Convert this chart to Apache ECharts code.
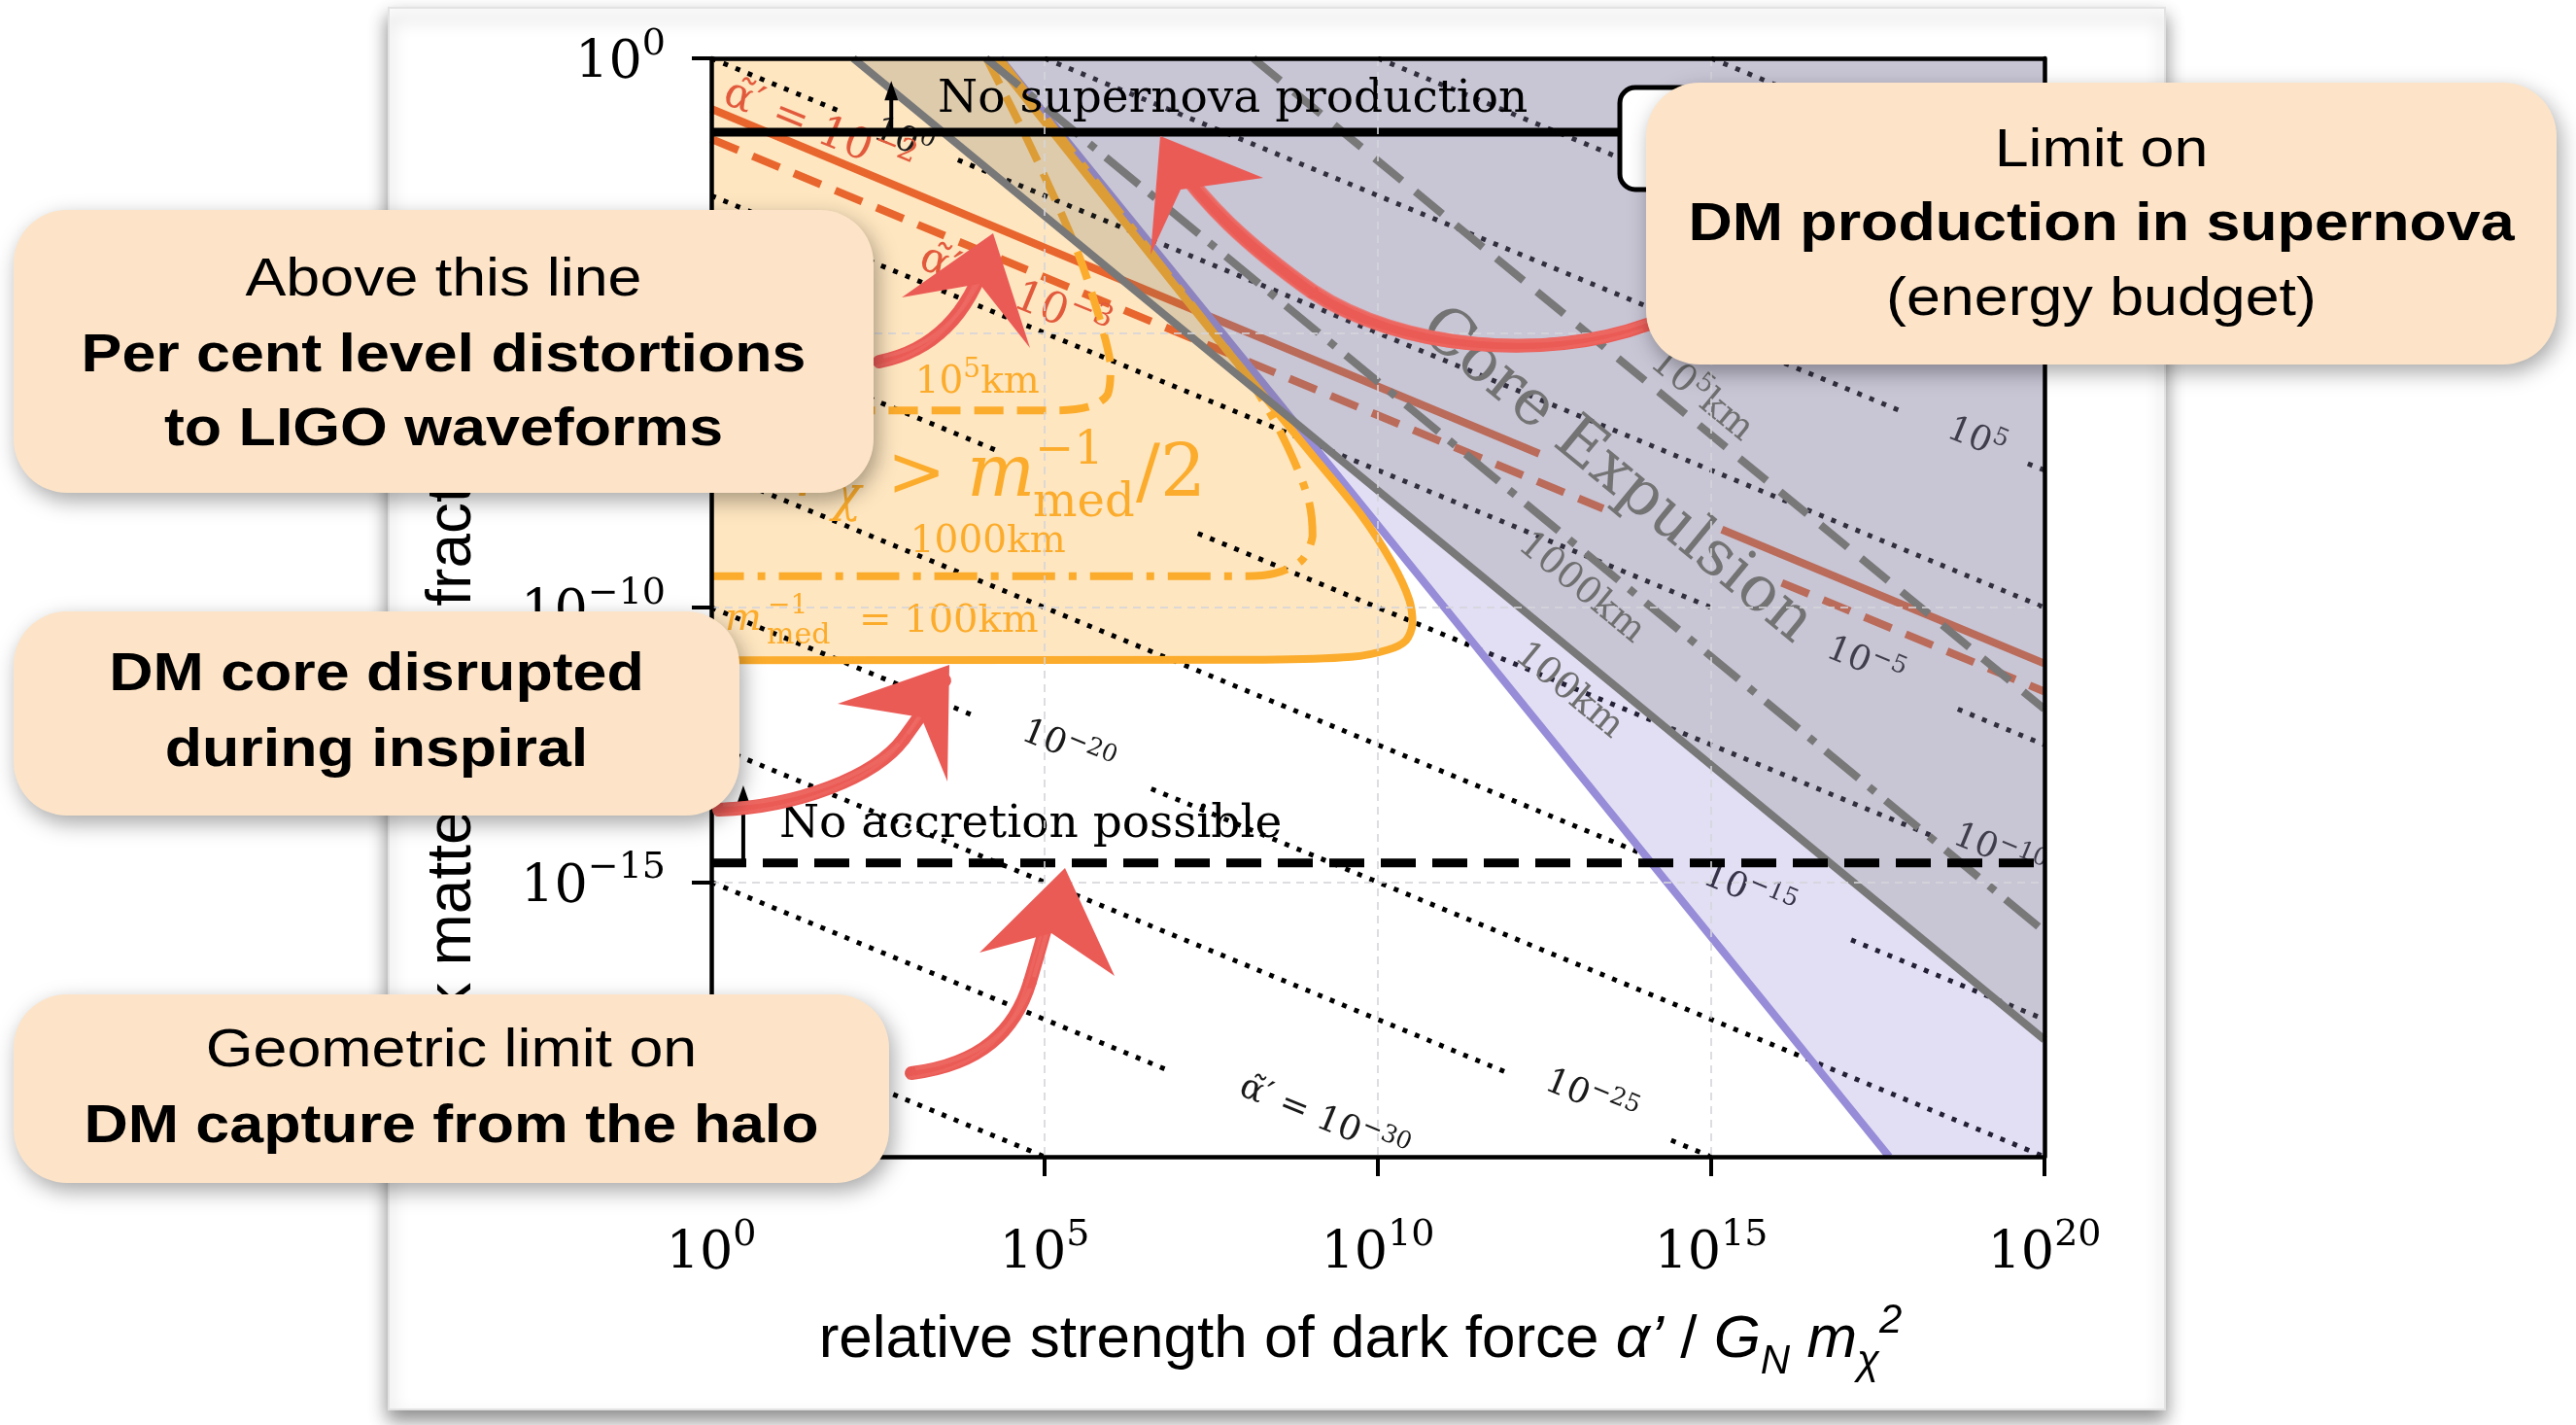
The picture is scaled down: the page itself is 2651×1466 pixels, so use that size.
<!DOCTYPE html>
<html>
<head>
<meta charset="utf-8">
<script src="https://cdn.jsdelivr.net/npm/echarts@6/dist/echarts.min.js"></script>
<style>
html,body{margin:0;padding:0;background:#ffffff;}
#chart{width:2651px;height:1466px;}
</style>
</head>
<body>
<div id="chart"></div>
<script>
const SERIF = '"DejaVu Serif", serif';
const SANS = '"Liberation Sans", Arial, sans-serif';

// ---------- axes (all data in log10 units) ----------
const xTickValues = [0, 5, 10, 15, 20];
const xTickLabels = ['0', '5', '10', '15', '20'];
const yTickValues = [-20, -15, -10, -5, 0];
const yTickLabels = ['\u221220', '\u221215', '\u221210', '\u22125', '0'];

// ---------- contours of the m_med^-1 regions (orange) ----------
const orange100km = [[4.24,0],[7.55,-5.04],[9.0,-7.2],[9.74,-8.3],[10.22,-9.2],[10.47,-9.86],[10.52,-10.3],[10.42,-10.6],[10.15,-10.77],[9.6,-10.9],[8.3,-10.95],[0,-10.96]];
const orange1000km = [[4.32,0],[7.6,-5.1],[8.1,-5.9],[8.45,-6.6],[8.76,-7.38],[8.97,-8.09],[9.02,-8.7],[8.85,-9.15],[8.45,-9.38],[8.0,-9.43],[0,-9.43]];
const orange1e5km = [[4.13,0],[4.82,-1.68],[5.47,-3.45],[5.8,-4.64],[5.99,-5.58],[5.95,-6.11],[5.7,-6.33],[5.2,-6.41],[0,-6.41]];
// filled area: the 100 km contour closed along the top and left plot edges
const orangeRegion = [[0,0],[3.6,0]].concat(orange100km.slice(0, -1), [[1,-10.96],[0,-10.96],[0,-10]]);

// ---------- lavender region and its purple edge ----------
const purpleLine = [[4.33,0],[17.67,-20]];
const lavenderRegion = [[4.33,0],[17.67,-20],[20,-20],[20,0]];

// ---------- core expulsion (gray) ----------
const graySolid = [[2.13,0],[20,-17.87]];
const grayDashDot = [[4.12,0],[20,-15.9]];
const grayDashed = [[8.13,0],[20,-11.85]];
const grayRegion = [[2.13,0],[20,-17.87],[20,0]];

// ---------- alpha-tilde contours (red) ----------
const redSolidSegments = [[[0,-0.92],[12.42,-7.2]], [[15.16,-8.58],[20,-11.02]]];
const redDashedSegments = [[[0,-1.47],[13.38,-8.2]], [[16.06,-9.55],[20,-11.53]]];

// ---------- alpha-tilde' iso lines (black dotted) ----------
const dottedSegments = [
  [[15,0],[20,-2.5]],
  [[10,0],[20,-5]],
  [[5,0],[17.9,-6.45]], [[19.75,-7.38],[20,-7.5]],
  [[0,0],[1.9,-0.95]], [[3.7,-1.85],[20,-10]],
  [[0,-2.5],[15.1,-10.05]], [[18.7,-11.85],[20,-12.5]],
  [[0,-5],[4.3,-7.15]], [[7.3,-8.65],[18.3,-14.15]],
  [[0,-7.5],[13.9,-14.45]], [[17.1,-16.05],[20,-17.5]],
  [[0,-10],[3.9,-11.95]], [[6.6,-13.3],[20,-20]],
  [[0,-12.5],[12.0,-18.5]], [[14.4,-19.7],[15,-20]],
  [[0,-15],[6.8,-18.4]],
  [[0,-17.5],[5,-20]]
];

// ---------- horizontal limits ----------
const supernovaLimit = [[0,-1.345],[13.63,-1.345]];
const accretionLimit = [[0,-14.65],[20,-14.65]];
const upArrows = [[2.70,-1.345,-0.41],[0.48,-14.65,-13.24]];

// ---------- labels ----------
const dottedLabels = [
  {x:2.886, y:-1.451, text:'{b|10}{s|0}'},
  {x:18.99, y:-6.90, text:'{b|10}{s|5}'},
  {x:17.32, y:-10.97, text:'{b|10}{s|\u22125}'},
  {x:19.33, y:-14.42, text:'{b|10}{s|\u221210}'},
  {x:15.58, y:-15.15, text:'{b|10}{s|\u221215}'},
  {x:5.36, y:-12.53, text:'{b|10}{s|\u221220}'},
  {x:13.21, y:-18.9, text:'{b|10}{s|\u221225}'},
  {x:9.20, y:-19.29, text:'{b|\u03b1\u0303\u2032 = 10}{s|\u221230}'}
];
const redLabels = [
  {x:1.62, y:-1.25, text:'{b|\u03b1\u0303\u2032 = 10}{s|\u22122}'},
  {x:4.56, y:-4.25, text:'{b|\u03b1\u0303\u2032 = 10}{s|\u22123}'}
];
const grayLabels = [
  {x:14.88, y:-6.11, text:'{b|10}{s|5}{b|km}'},
  {x:13.05, y:-9.65, text:'{b|1000km}'},
  {x:12.86, y:-11.52, text:'{b|100km}'}
];
const coreLabel = [{x:13.57, y:-7.61, text:'Core Expulsion'}];
const orangeLabels = [
  {x:3.99, y:-5.84, text:'{b|10}{s|5}{b|km}'},
  {x:4.15, y:-8.81, text:'{b|1000km}'}
];
const blackTexts = [
  {x:3.397, y:-0.761, text:'No supernova production'},
  {x:1.02, y:-13.96, text:'No accretion possible'}
];
const bigMathLabel = {x:3.834, y:-8.018, parts:[
  {t:'r', dx:-178, dy:0, size:72, italic:true},
  {t:'\u03c7', dx:-139, dy:14, size:50, italic:true},
  {t:'>', dx:-82, dy:0, size:72},
  {t:'m', dx:0, dy:0, size:74, italic:true},
  {t:'\u22121', dx:70, dy:-34, size:48},
  {t:'med', dx:68, dy:20, size:48},
  {t:'/2', dx:174, dy:0, size:74}
]};
const smallMathLabel = {x:0.204, y:-10.44, parts:[
  {t:'m', dx:0, dy:0, size:40, italic:true},
  {t:'\u22121', dx:44, dy:-18, size:28},
  {t:'med', dx:43, dy:13, size:30},
  {t:'= 100km', dx:138, dy:2, size:40}
]};

// ---------- helpers ----------
function clipOf(cs){ return {type:'rect', shape:{x:cs.x, y:cs.y, width:cs.width, height:cs.height}}; }
function bboxOf(px){
  let x0 = Infinity, y0 = Infinity, x1 = -Infinity, y1 = -Infinity;
  px.forEach(function(p){ x0 = Math.min(x0, p[0]); y0 = Math.min(y0, p[1]); x1 = Math.max(x1, p[0]); y1 = Math.max(y1, p[1]); });
  return [[x0, y0], [x1, y1]];
}
function polygonSeries(pts, fill, z, smooth){
  return {type:'custom', silent:true, animation:false, z:z, data:pts,
    renderItem:function(params, api){
      if (params.dataIndex !== 0) return null;
      const px = pts.map(function(p){return api.coord(p);});
      const shape = {points:px};
      if (smooth) { shape.smooth = smooth; shape.smoothConstraint = bboxOf(px); }
      return {type:'polygon', shape:shape, style:{fill:fill}, clipPath:clipOf(params.coordSys)};
    }};
}
function polylineSeries(pts, stroke, width, dash, z, smooth){
  return {type:'custom', silent:true, animation:false, z:z, data:pts,
    renderItem:function(params, api){
      if (params.dataIndex !== 0) return null;
      const px = pts.map(function(p){return api.coord(p);});
      const shape = {points:px};
      if (smooth) { shape.smooth = smooth; shape.smoothConstraint = bboxOf(px); }
      return {type:'polyline', shape:shape,
        style:{stroke:stroke, lineWidth:width, lineDash:dash||null, fill:'none', lineCap:'butt'},
        clipPath:clipOf(params.coordSys)};
    }};
}
function lineSeries(pts, color, width, type, z){
  return {type:'line', data:pts, showSymbol:false, symbol:'none', silent:true, animation:false, z:z, clip:true,
    lineStyle:{color:color, width:width, type:type, cap:'butt'}};
}
function textSeries(items, opt, z){
  return {type:'custom', silent:true, animation:false, z:z,
    data:items.map(function(t){return [t.x, t.y];}),
    renderItem:function(params, api){
      const t = items[params.dataIndex];
      const p = api.coord([t.x, t.y]);
      let rot = 0;
      if (opt.slope !== undefined){
        const q = api.coord([t.x + 1, t.y + opt.slope]);
        rot = -Math.atan2(q[1]-p[1], q[0]-p[0]);
      }
      const fam = opt.family || SERIF, size = opt.size, sup = opt.sup || Math.round(size*0.7);
      return {type:'group', clipPath:clipOf(params.coordSys), children:[{
        type:'text', x:p[0], y:p[1], rotation:rot,
        style:{text:t.text, fill:opt.color, fontFamily:fam, fontSize:size,
          align:opt.align||'center', verticalAlign:'middle',
          rich:{
            b:{fontFamily:fam, fontSize:size, verticalAlign:'bottom', fill:opt.color, color:opt.color},
            s:{fontFamily:fam, fontSize:sup, verticalAlign:'bottom', padding:[0,0,Math.round(size*0.45),0], fill:opt.color, color:opt.color}
          }}
      }]};
    }};
}
function mathSeries(lbl, color, z){
  return {type:'custom', silent:true, animation:false, z:z, data:[[lbl.x, lbl.y]],
    renderItem:function(params, api){
      const p = api.coord([lbl.x, lbl.y]);
      return {type:'group', clipPath:clipOf(params.coordSys), children:lbl.parts.map(function(q){
        return {type:'text', x:p[0]+q.dx, y:p[1]+q.dy-0.3*q.size,
          style:{text:q.t, fill:color, fontFamily:SERIF, fontSize:q.size, fontStyle:q.italic?'italic':'normal',
            align:'left', verticalAlign:'middle'}};
      })};
    }};
}
function arrowSeries(list, z){
  return {type:'custom', silent:true, animation:false, z:z, data:list.map(function(a){return [a[0], a[1]];}),
    renderItem:function(params, api){
      const a = list[params.dataIndex];
      const b = api.coord([a[0], a[1]]), t = api.coord([a[0], a[2]]);
      return {type:'group', children:[
        {type:'line', shape:{x1:b[0], y1:b[1], x2:t[0], y2:t[1]+16}, style:{stroke:'#000', lineWidth:4}},
        {type:'polygon', shape:{points:[[t[0], t[1]], [t[0]-7, t[1]+20], [t[0]+7, t[1]+20]]}, style:{fill:'#000'}}
      ]};
    }};
}

// ---------- series (z order mimics the layered transparent fills) ----------
const series = [];
series.push(polygonSeries(orangeRegion, '#fee6c0', 1, 0.3));
dottedSegments.forEach(function(s){ series.push(lineSeries(s, '#000', 5, [5, 8.5], 2)); });
redSolidSegments.forEach(function(s){ series.push(lineSeries(s, '#e8662e', 8, 'solid', 2)); });
redDashedSegments.forEach(function(s){ series.push(lineSeries(s, '#e8662e', 8, [30, 16], 2)); });
series.push(textSeries(dottedLabels, {size:36, sup:25, color:'#1a1a1a', slope:-0.5}, 2));
series.push(polygonSeries(lavenderRegion, 'rgba(140,128,210,0.25)', 3));
series.push(lineSeries(purpleLine, '#978cd8', 8, 'solid', 4));
series.push(polylineSeries(orange1e5km, '#fcac2c', 8, [30, 14], 5, 0.3));
series.push(polylineSeries(orange1000km, '#fcac2c', 8, [44, 14, 8, 14], 5, 0.3));
series.push(polylineSeries(orange100km, '#fcac2c', 8, null, 5, 0.3));
series.push(polygonSeries(grayRegion, 'rgba(105,103,100,0.21)', 6));
series.push(lineSeries(graySolid, '#787878', 8, 'solid', 7));
series.push(lineSeries(grayDashDot, '#787878', 8, [44, 14, 8, 14], 7));
series.push(lineSeries(grayDashed, '#787878', 8, [36, 18], 7));
series.push(textSeries(grayLabels, {size:38, sup:27, color:'#6f6f6f', slope:-1}, 8));
series.push(textSeries(coreLabel, {size:65, color:'#737373', slope:-1}, 8));
series.push(textSeries(redLabels, {size:44, sup:31, color:'#e25a3c', slope:-0.5}, 8));
series.push(textSeries(orangeLabels, {size:39, sup:28, color:'#fcac2c'}, 8));
series.push(mathSeries(bigMathLabel, '#fcac2c', 8));
series.push(mathSeries(smallMathLabel, '#fcac2c', 8));
series.push(lineSeries(supernovaLimit, '#000', 9, 'solid', 9));
series.push(lineSeries(accretionLimit, '#000', 9, [36, 17], 9));
series.push(arrowSeries(upArrows, 9));
series.push(textSeries(blackTexts, {size:47, color:'#000', align:'left'}, 9));

// ---------- overlay annotations (pixel space) ----------
function callout(x, y, w, h, lines){
  const els = [{type:'rect', z:100, shape:{x:x, y:y, width:w, height:h, r:55},
    style:{fill:'#fde4c8', shadowBlur:22, shadowOffsetX:4, shadowOffsetY:8, shadowColor:'rgba(0,0,0,0.35)'}}];
  lines.forEach(function(l){
    els.push({type:'text', z:101, x:x+w/2, y:l[2], scaleX:1.12,
      style:{text:l[0], font:(l[1]?'bold ':'')+'56px "Liberation Sans", Arial, sans-serif', fill:'#000',
        align:'center', verticalAlign:'middle', textAlign:'center', textVerticalAlign:'middle'}});
  });
  return els;
}
// segs: list of cubic segments [x1,y1,cpx1,cpy1,cpx2,cpy2,x2,y2]
function chalkArrow(segs, head){
  const out = [];
  segs.forEach(function(s){
    const sh = {x1:s[0], y1:s[1], cpx1:s[2], cpy1:s[3], cpx2:s[4], cpy2:s[5], x2:s[6], y2:s[7]};
    out.push({type:'bezierCurve', z:95, shape:sh, style:{stroke:'#eb5b56', lineWidth:14, fill:'none', lineCap:'round'}});
    out.push({type:'bezierCurve', z:95, x:4, y:-5, shape:sh, style:{stroke:'#ee6a64', lineWidth:4, fill:'none', opacity:0.8}});
    out.push({type:'bezierCurve', z:95, x:-4, y:5, shape:sh, style:{stroke:'#ee6a64', lineWidth:3, fill:'none', opacity:0.6}});
  });
  out.push({type:'polygon', z:95, shape:{points:head}, style:{fill:'#eb5b56'}});
  return out;
}
let graphics = [
  {type:'rect', z:-10, shape:{x:400, y:8, width:1828, height:1442},
    style:{fill:'#ffffff', stroke:'#e3e3e3', lineWidth:2, shadowBlur:18, shadowOffsetY:10, shadowColor:'rgba(0,0,0,0.45)'}},
  {type:'rect', z:50, shape:{x:1667, y:90, width:420, height:105, r:16}, style:{fill:'#ffffff', stroke:'#000', lineWidth:5}}
];
graphics = graphics
  .concat(chalkArrow([[905,372,955,362,995,330,1016,262]], [[1022,240],[928,306],[1008,292],[1060,358]]))
  .concat(chalkArrow([[1695,334,1590,372,1440,360,1350,300],[1350,300,1280,250,1240,210,1208,165]], [[1194,140],[1184,262],[1215,195],[1300,183]]))
  .concat(chalkArrow([[740,833,820,830,900,800,930,760],[930,760,960,720,965,705,972,700]], [[977,684],[862,724],[948,738],[975,804]]))
  .concat(chalkArrow([[938,1104,1010,1095,1045,1060,1060,1010],[1060,1010,1075,960,1082,930,1090,912]], [[1096,893],[1008,980],[1082,960],[1147,1004]]))
  .concat(callout(14, 216, 885, 291, [['Above this line', false, 289], ['Per cent level distortions', true, 367], ['to LIGO waveforms', true, 443]]))
  .concat(callout(14, 629, 747, 210, [['DM core disrupted', true, 695], ['during inspiral', true, 773]]))
  .concat(callout(14, 1023, 901, 194, [['Geometric limit on', false, 1082], ['DM capture from the halo', true, 1160]]))
  .concat(callout(1694, 85, 937, 290, [['Limit on', false, 156], ['DM production in supernova', true, 232], ['(energy budget)', false, 309]]));

// ---------- axis label formatting ----------
const tickRich = {
  b:{fontFamily:SERIF, fontSize:54, color:'#000', verticalAlign:'bottom'},
  s:{fontFamily:SERIF, fontSize:38, color:'#000', verticalAlign:'bottom', padding:[0,0,28,0]}
};
function fmtX(v){ const i = xTickValues.indexOf(Math.round(v)); return i < 0 ? '' : '{b|10}{s|' + xTickLabels[i] + '}'; }
function fmtY(v){ const i = yTickValues.indexOf(Math.round(v)); return i < 0 ? '' : '{b|10}{s|' + yTickLabels[i] + '}'; }
const frameLine = {show:true, onZero:false, lineStyle:{color:'#000', width:4.5}};
const gridLine = {show:true, lineStyle:{color:'rgba(212,212,218,0.8)', width:2, type:[8, 6]}};

const option = {
  animation:false,
  backgroundColor:'#ffffff',
  grid:{left:732, top:60, width:1372, height:1130, show:false},
  xAxis:[
    {type:'value', min:0, max:20, interval:5, position:'bottom', z:10,
      axisLine:frameLine, axisTick:{show:true, length:20, lineStyle:{color:'#000', width:4}},
      axisLabel:{margin:62, formatter:fmtX, rich:tickRich},
      splitLine:gridLine,
      name:'{n|relative strength of dark force }{i|\u03b1\u2019}{n| / }{i|G}{sb|N}{n| }{i|m}{sb|\u03c7}{sp|2}',
      nameLocation:'middle', nameGap:148,
      nameTextStyle:{fontFamily:SANS, fontSize:62, color:'#000', padding:[0,36,0,0], rich:{
        n:{fontFamily:SANS, fontSize:62, color:'#000', verticalAlign:'bottom', padding:[0,0,12,0]},
        i:{fontFamily:SANS, fontSize:62, fontStyle:'italic', color:'#000', verticalAlign:'bottom', padding:[0,0,12,0]},
        sb:{fontFamily:SANS, fontSize:42, fontStyle:'italic', color:'#000', verticalAlign:'bottom'},
        sp:{fontFamily:SANS, fontSize:42, fontStyle:'italic', color:'#000', verticalAlign:'bottom', padding:[0,0,42,0]}
      }}},
    {type:'value', min:0, max:20, interval:5, position:'top', z:10,
      axisLine:frameLine, axisTick:{show:false}, axisLabel:{show:false}, splitLine:{show:false}}
  ],
  yAxis:[
    {type:'value', min:-20, max:0, interval:5, position:'left', z:10,
      axisLine:frameLine, axisTick:{show:true, length:20, lineStyle:{color:'#000', width:4}},
      axisLabel:{margin:47, formatter:fmtY, rich:tickRich},
      splitLine:gridLine,
      name:'{n|dark matter mass fraction }{i|M}{sb|\u03c7}{n|/}{i|M}{sb|b}',
      nameLocation:'middle', nameGap:222,
      nameTextStyle:{fontFamily:SANS, fontSize:64, color:'#000', padding:[0,110,0,0], rich:{
        n:{fontFamily:SANS, fontSize:64, color:'#000', verticalAlign:'bottom', padding:[0,0,12,0]},
        i:{fontFamily:SANS, fontSize:64, fontStyle:'italic', color:'#000', verticalAlign:'bottom', padding:[0,0,12,0]},
        sb:{fontFamily:SANS, fontSize:43, fontStyle:'italic', color:'#000', verticalAlign:'bottom'}
      }}},
    {type:'value', min:-20, max:0, interval:5, position:'right', z:10,
      axisLine:frameLine, axisTick:{show:false}, axisLabel:{show:false}, splitLine:{show:false}}
  ],
  series:series,
  graphic:{elements:graphics}
};

const chart = echarts.init(document.getElementById('chart'), null, {renderer:'canvas'});
chart.setOption(option);
</script>
</body>
</html>
